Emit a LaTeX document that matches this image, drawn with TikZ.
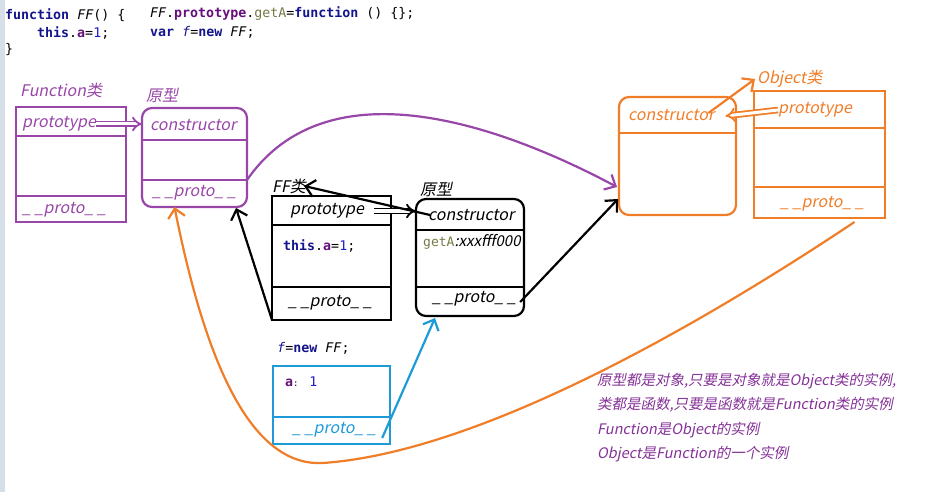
\documentclass[tikz,border=0pt]{standalone}
\usepackage{fontspec}
\newfontfamily\labfont[FakeSlant=0.2]{Noto Sans CJK SC}
\newfontfamily\codefont{DejaVu Sans Mono}
\usetikzlibrary{arrows.meta,positioning,calc}
\definecolor{fnpurple}{RGB}{152,70,168}
\definecolor{notepurple}{RGB}{132,48,150}
\definecolor{objorange}{RGB}{240,125,40}
\definecolor{inblue}{RGB}{30,155,215}
\definecolor{kwnavy}{RGB}{20,20,140}
\definecolor{fieldpurple}{RGB}{102,14,122}
\definecolor{methodolive}{RGB}{120,120,70}
\definecolor{numblue}{RGB}{30,30,200}
\definecolor{leftstrip}{RGB}{214,222,232}
\newcommand{\kw}[1]{\textcolor{kwnavy}{\bfseries #1}}
\newcommand{\fld}[1]{\textcolor{fieldpurple}{\bfseries #1}}
\newcommand{\protolbl}{\_ \_proto\_ \_}
\tikzset{
  classbox/.style={draw,line width=2.2pt,inner sep=0pt,outer sep=0pt},
  protobox/.style={classbox,rounded corners=10pt},
  link/.style={-{Straight Barb[length=9pt,width=17pt]},line width=2.2pt},
  hollowlink/.style={-{Implies[length=7pt,width=16pt]},double=white,double distance=3pt,line width=1.8pt}
}
\begin{document}
\begin{tikzpicture}[x=1pt,y=-1pt,
  field/.style={anchor=west,inner sep=0pt,font=\labfont\fontsize{16}{18}\selectfont},
  code/.style={anchor=west,inner sep=0pt,font=\codefont\fontsize{13.3}{16}\selectfont},
  note/.style={anchor=north west,inner sep=0pt,align=left,text=notepurple,
    font=\labfont\fontsize{14.5}{24.5}\selectfont}
]
  \useasboundingbox (0,0) rectangle (935,492);
  \fill[leftstrip] (0,0) rectangle (5,492);
  % source code
  \node[code] (codeA) at (5,15) {\kw{function} \textit{FF}() \{};
  \node[code] (codeB) at (37,33) {\kw{this}.\fld{a}=\textcolor{numblue}{1};};
  \node[code] (codeC) at (5,50) {\}};
  \node[code] (codeD) at (150,14) {\textit{FF}.\fld{prototype}.\textcolor{methodolive}{getA}=\kw{function} () \{\};};
  \node[code] (codeE) at (150,32) {\kw{var} \textcolor{kwnavy}{\textit{f}}=\kw{new} \textit{FF};};
  % boxes
  \node[classbox,draw=fnpurple,minimum width=110pt,minimum height=115pt] (funcbox) at (71,164.5) {};
  \node[protobox,draw=fnpurple,minimum width=105pt,minimum height=99pt] (protoF) at (194.5,157.5) {};
  \node[classbox,minimum width=119pt,minimum height=124pt] (ffbox) at (331.5,258) {};
  \node[protobox,minimum width=108pt,minimum height=117pt] (protoFF) at (470,257.5) {};
  \node[protobox,draw=objorange,minimum width=117pt,minimum height=118pt] (objproto) at (677.5,156) {};
  \node[classbox,draw=objorange,minimum width=131pt,minimum height=127pt] (objbox) at (819.5,154.5) {};
  \node[classbox,draw=inblue,minimum width=117pt,minimum height=78pt] (fbox) at (331.5,405) {};
  \foreach \boxname/\off/\col in {funcbox/29/fnpurple,funcbox/89/fnpurple,
      protoF/32/fnpurple,protoF/72/fnpurple,ffbox/29/black,ffbox/91/black,
      protoFF/31/black,protoFF/88/black,objproto/36/objorange,
      objbox/37/objorange,objbox/96/objorange,fbox/51/inblue}
    \draw[\col,line width=2.2pt] ($(\boxname.north west)+(0,\off)$) -- ($(\boxname.north east)+(0,\off)$);
  % titles
  \node[field,text=fnpurple] (fnlabel) at (20,90) {Function类};
  \node[field,text=fnpurple] (pflabel) at (146,95) {原型};
  \node[field] (fflabel) at (272,186) {FF类};
  \node[field] (pplabel) at (420,189) {原型};
  \node[field,text=objorange] (objlabel) at (757,79) {Object类};
  \node[code] (flabel) at (277,348) {\textcolor{kwnavy}{\textit{f}}=\kw{new} \textit{FF};};
  % fields
  \node[field,text=fnpurple] (fnproto) at (22,124) {prototype};
  \node[field,text=fnpurple] (fnlink) at (22,210) {\protolbl};
  \node[field,text=fnpurple] (pfconstr) at (150,125) {constructor};
  \node[field,text=fnpurple] (pflink) at (152,193) {\protolbl};
  \node[field] (ffproto) at (290,211) {prototype};
  \node[code] (ffbody) at (283,246) {\kw{this}.\fld{a}=\textcolor{numblue}{1};};
  \node[field] (fflink) at (288,303) {\protolbl};
  \node[field] (ppconstr) at (428,215) {constructor};
  \node[field,font=\labfont\fontsize{15}{18}\selectfont] (ppgeta) at (423,242)
    {{\codefont\fontsize{13}{16}\selectfont\textcolor{methodolive}{getA}}:xxxfff000};
  \node[field] (pplink) at (432,299) {\protolbl};
  \node[field,text=objorange] (opconstr) at (628,115) {constructor};
  \node[field,text=objorange] (obproto) at (778,110) {prototype};
  \node[field,text=objorange] (oblink) at (780,204) {\protolbl};
  \node[code] (fval) at (285,382) {\fld{a}{\fontsize{9}{10}\selectfont:} \textcolor{numblue}{1}};
  \node[field,text=inblue] (flink) at (292,430) {\protolbl};
  % notes
  \node[note] (notes) at (597,373) {原型都是对象,只要是对象就是Object类的实例,\\
    类都是函数,只要是函数就是Function类的实例\\
    Function是Object的实例\\
    Object是Function的一个实例};
  % prototype links
  \draw[hollowlink,fnpurple] (fnproto.east) -- (fnproto.east -| protoF.west);
  \draw[hollowlink] ($(ffproto.east)+(10,0)$) -- (ffproto.east -| protoFF.west);
  \draw[hollowlink,objorange] (obproto.west) -- ($(opconstr.east)+(11,1)$);
  % constructor links
  \draw[link] ($(ppconstr.west)+(2,0)$) -- ($(fflabel.east)+(-2,0)$);
  \draw[link,objorange] ($(opconstr.east)+(-6,-2)$) -- ($(objlabel.west)+(-2,0)$);
  % proto chains
  \draw[link] (ffbox.south west) -- ($(protoF.south east)+(-11,1)$);
  \draw[link] ($(pplink.east)+(4,3)$) -- ($(objproto.west)+(-1,43)$);
  \draw[link,inblue] ($(flink.east)+(6,8)$) -- ($(protoFF.south west)+(19,2)$);
  \draw[link,fnpurple] ($(protoF.south east)+(0,-27)$) .. controls (330,60) and (510,130) .. ($(objproto.west)+(-2,31)$);
  \coordinate (orangelow) at (323,463);
  \draw[link,objorange] ($(objbox.south)+(35,4)$) .. controls (700,325) and (480,452) .. (orangelow)
    .. controls (250,467) and (205,360) .. ($(protoF.south)+(-20,0)$);
\end{tikzpicture}
\end{document}
